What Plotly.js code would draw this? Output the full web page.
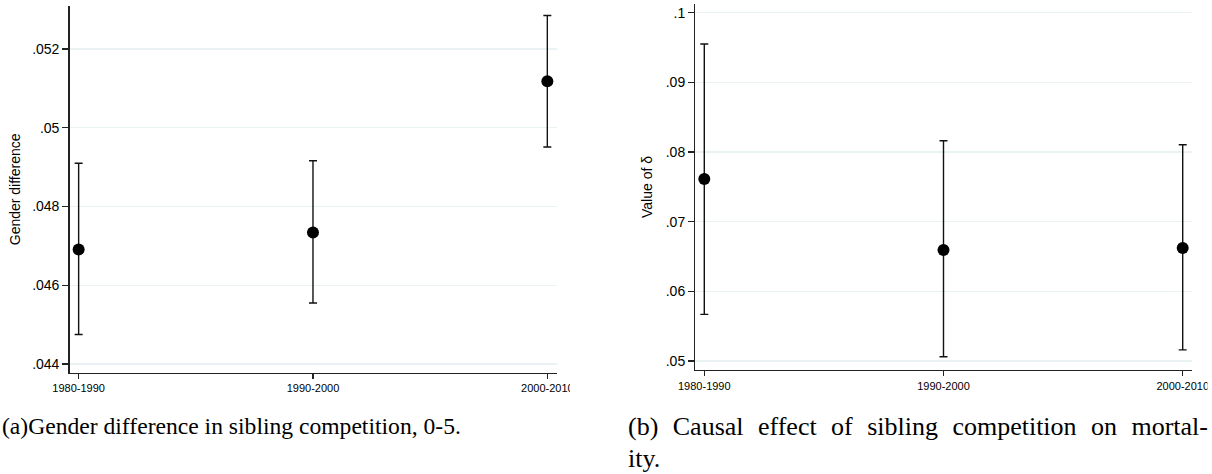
<!DOCTYPE html>
<html>
<head>
<meta charset="utf-8">
<script src="https://cdn.plot.ly/plotly-3.0.1.min.js"></script>
<style>
  html, body { margin: 0; padding: 0; background: #ffffff; }
  #chart { width: 1212px; height: 474px; }
</style>
</head>
<body>
<div id="chart"></div>
<script>
// ---- data ----
const periods = ["1980-1990", "1990-2000", "2000-2010"];

// (a) Gender difference in sibling competition, 0-5
const genderDiff      = [0.04691, 0.04734, 0.05118];
const genderDiffLower = [0.04475, 0.04555, 0.04951];
const genderDiffUpper = [0.04910, 0.04916, 0.05285];
const yTicksA     = [0.044, 0.046, 0.048, 0.050, 0.052];
const yTickTextA  = [".044", ".046", ".048", ".05", ".052"];

// (b) Causal effect of sibling competition on mortality
const delta      = [0.07613, 0.06594, 0.06623];
const deltaLower = [0.05670, 0.05060, 0.05160];
const deltaUpper = [0.09550, 0.08162, 0.08105];
const yTicksB    = [0.05, 0.06, 0.07, 0.08, 0.09, 0.10];
const yTickTextB = [".05", ".06", ".07", ".08", ".09", ".1"];

const captionA  = "(a)Gender difference in sibling competition, 0-5.";
const captionB1 = "(b) Causal effect of sibling competition on mortal-";
const captionB2 = "ity.";

// ---- helpers ----
function errTrace(y, lo, hi, xa, ya) {
  return {
    type: "scatter", mode: "markers",
    x: periods, y: y, xaxis: xa, yaxis: ya,
    marker: { color: "#000000", size: 12 },
    error_y: {
      type: "data", symmetric: false,
      array: y.map((v, i) => hi[i] - v),
      arrayminus: y.map((v, i) => v - lo[i]),
      color: "#111111", thickness: 1.4, width: 4
    },
    showlegend: false, hoverinfo: "x+y"
  };
}

const W = 1212, H = 474;
const px = v => v / W;
const py = v => (H - v) / H;

const tickFontY = { family: "Liberation Sans, Arial, sans-serif", size: 14, color: "#000" };
const tickFontX = { family: "Liberation Sans, Arial, sans-serif", size: 11, color: "#000" };
const capFontA = { family: "Liberation Serif, Times New Roman, serif", size: 23.6, color: "#000" };
const capFontB = { family: "Liberation Serif, Times New Roman, serif", size: 26, color: "#000" };
const gridCol = "#eaf2f3";
const axisCol = "#222222";

const xCommon = {
  type: "category", showline: true, linecolor: axisCol, linewidth: 1.3,
  ticks: "outside", ticklen: 5, tickcolor: axisCol, tickwidth: 1.2,
  showgrid: false, zeroline: false, tickfont: tickFontX, fixedrange: true
};
const yCommon = {
  showline: true, linecolor: axisCol, linewidth: 1.3,
  ticks: "outside", ticklen: 6, tickcolor: axisCol, tickwidth: 1.2,
  showgrid: true, gridcolor: gridCol, gridwidth: 1.2, zeroline: false,
  tickfont: tickFontY, fixedrange: true, tickmode: "array", automargin: false
};

const data = [
  errTrace(genderDiff, genderDiffLower, genderDiffUpper, "x", "y"),
  errTrace(delta, deltaLower, deltaUpper, "x2", "y2")
];

const layout = {
  width: W, height: H,
  margin: { l: 0, r: 0, t: 0, b: 0 },
  paper_bgcolor: "#ffffff", plot_bgcolor: "#ffffff",
  showlegend: false,
  xaxis: Object.assign({}, xCommon, {
    domain: [px(69.5), px(556.7)], anchor: "y", range: [-0.039, 2.040]
  }),
  yaxis: Object.assign({}, yCommon, {
    domain: [py(372.7), py(6)], anchor: "x", range: [0.043779, 0.053092],
    tickvals: yTicksA, ticktext: yTickTextA,
    title: { text: "Gender difference", standoff: 8,
             font: { family: "Liberation Sans, Arial, sans-serif", size: 14, color: "#000" } }
  }),
  xaxis2: Object.assign({}, xCommon, {
    domain: [px(695.3), px(1191.7)], anchor: "y2", range: [-0.0376, 2.0376]
  }),
  yaxis2: Object.assign({}, yCommon, {
    domain: [py(370), py(4)], anchor: "x2", range: [0.048708, 0.101249],
    tickvals: yTicksB, ticktext: yTickTextB,
    title: { text: "Value of δ", standoff: 9,
             font: { family: "Liberation Sans, Arial, sans-serif", size: 14, color: "#000" } }
  }),
  shapes: [
    { type: "rect", xref: "paper", yref: "paper", layer: "above",
      x0: px(570), x1: px(600), y0: py(398), y1: py(376),
      fillcolor: "#ffffff", line: { width: 0 } },
    { type: "rect", xref: "paper", yref: "paper", layer: "above",
      x0: px(1207.5), x1: 1, y0: py(398), y1: py(376),
      fillcolor: "#ffffff", line: { width: 0 } }
  ],
  annotations: [
    { text: captionA, xref: "paper", yref: "paper", x: px(0), y: py(426),
      xanchor: "left", yanchor: "middle", align: "left", showarrow: false, font: capFontA },
    { text: captionB1, xref: "paper", yref: "paper", x: px(626), y: py(426),
      xanchor: "left", yanchor: "middle", align: "left", showarrow: false, font: capFontB },
    { text: captionB2, xref: "paper", yref: "paper", x: px(626), y: py(458),
      xanchor: "left", yanchor: "middle", align: "left", showarrow: false, font: capFontB }
  ]
};

Plotly.newPlot("chart", data, layout, { displayModeBar: false, staticPlot: true }).then(() => {
  // the first line of caption (b) is justified to the column width in the typeset original
  const texts = document.querySelectorAll("#chart .annotation-text");
  texts.forEach(t => {
    if (t.textContent === captionB1) {
      const natural = t.getComputedTextLength();
      const target = 1207 - 627;
      const spaces = (captionB1.match(/ /g) || []).length;
      if (natural < target && spaces > 0) {
        t.style.wordSpacing = ((target - natural) / spaces) + "px";
      }
    }
  });
});
</script>
</body>
</html>
